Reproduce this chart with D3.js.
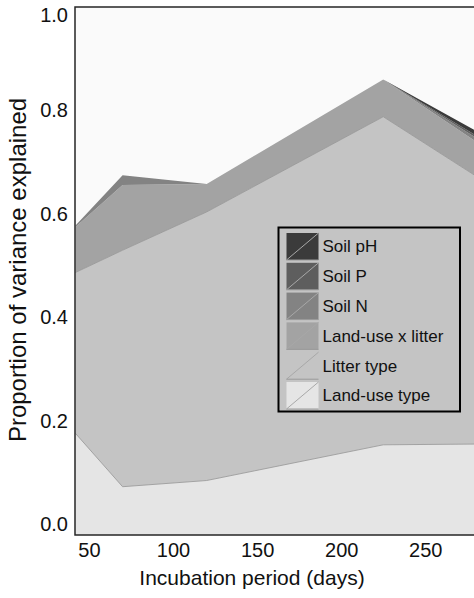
<!DOCTYPE html>
<html>
<head>
<meta charset="utf-8">
<script src="https://cdn.jsdelivr.net/npm/d3@7"></script>
<style>
  body { margin: 0; background: #fff; }
  svg { display: block; font-family: "Liberation Sans", Arial, sans-serif; }
</style>
</head>
<body>
<div id="chart"></div>
<script>
// incubation days (last one sits past the visible right edge)
var days = [42, 70, 120, 225, 300];

// layer values, bottom of the stack first
var landUseType   = [0.176, 0.073, 0.085, 0.154, 0.156];
var litterType    = [0.311, 0.457, 0.519, 0.634, 0.476];
var landUseLitter = [0.088, 0.126, 0.054, 0.072, 0.065];
var soilN         = [0.003, 0.019, 0.000, 0.000, 0.010];
var soilP         = [0.000, 0.000, 0.000, 0.000, 0.006];
var soilPH        = [0.000, 0.000, 0.000, 0.000, 0.012];

var seriesNames = ['Land-use type', 'Litter type', 'Land-use x litter', 'Soil N', 'Soil P', 'Soil pH'];
var seriesColors = ['#e5e5e5', '#c4c4c4', '#a3a3a3', '#838383', '#5e5e5e', '#3b3b3b'];
var xTicks = [50, 100, 150, 200, 250];
var yTicks = [0, 0.2, 0.4, 0.6, 0.8, 1.0];

var width = 474, height = 598;

var svg = d3.select('#chart').append('svg')
    .attr('width', width)
    .attr('height', height);

// plot runs past the right edge of the window, like the source
var x = d3.scaleLinear().domain([41.7, 320]).range([75, 543]);
var y = d3.scaleLinear().domain([-0.0203, 1.0]).range([535, 7]);

var rows = days.map(function (d, i) {
    return {
        day: d,
        'Land-use type': landUseType[i],
        'Litter type': litterType[i],
        'Land-use x litter': landUseLitter[i],
        'Soil N': soilN[i],
        'Soil P': soilP[i],
        'Soil pH': soilPH[i]
    };
});

var stacked = d3.stack().keys(seriesNames)(rows);

svg.append('rect')
    .attr('x', x.range()[0]).attr('y', y.range()[1])
    .attr('width', x.range()[1] - x.range()[0])
    .attr('height', y.range()[0] - y.range()[1])
    .attr('fill', '#fafafa');

var area = d3.area()
    .x(function (d) { return x(d.data.day); })
    .y0(function (d) { return d[0] === 0 ? y(y.domain()[0]) : y(d[0]); })
    .y1(function (d) { return y(d[1]); });

var topLine = d3.line()
    .x(function (d) { return x(d.data.day); })
    .y(function (d) { return y(d[1]); });

var layers = svg.append('g');
layers.selectAll('path.area')
    .data(stacked)
    .enter().append('path')
    .attr('class', 'area')
    .attr('d', area)
    .attr('fill', function (d, i) { return seriesColors[i]; });

// thin grey edges on the two lower layers only
layers.selectAll('path.edge')
    .data(stacked.slice(0, 2))
    .enter().append('path')
    .attr('class', 'edge')
    .attr('d', topLine)
    .attr('fill', 'none')
    .attr('stroke', function (d, i) { return i === 0 ? '#9c9c9c' : '#9a9a9a'; })
    .attr('stroke-width', 0.9);

// frame
svg.append('path')
    .attr('d', 'M' + x.range()[1] + ',' + y.range()[1] +
        'H' + x.range()[0] + 'V' + y.range()[0] + 'H' + x.range()[1])
    .attr('fill', 'none')
    .attr('stroke', '#262626')
    .attr('stroke-width', 1.5);

// axes, labels only
var yAxis = svg.append('g')
    .attr('transform', 'translate(' + x.range()[0] + ',0)')
    .call(d3.axisLeft(y).tickValues(yTicks).tickSize(0).tickPadding(7).tickFormat(d3.format('.1f')));
yAxis.select('.domain').remove();
yAxis.selectAll('text').attr('font-size', 20).attr('fill', '#111').attr('font-family', 'Liberation Sans, Arial, sans-serif');
// top label is nudged down so it stays inside the picture
yAxis.selectAll('.tick').filter(function (d) { return d === 1; })
    .select('text').attr('dy', '0.72em');

var xAxis = svg.append('g')
    .attr('transform', 'translate(0,' + y.range()[0] + ')')
    .call(d3.axisBottom(x).tickValues(xTicks).tickSize(0).tickPadding(8));
xAxis.select('.domain').remove();
xAxis.selectAll('text').attr('font-size', 20).attr('fill', '#111').attr('font-family', 'Liberation Sans, Arial, sans-serif');

svg.append('text')
    .attr('x', 252).attr('y', 585)
    .attr('text-anchor', 'middle')
    .attr('font-size', 21).attr('fill', '#111')
    .text('Incubation period (days)');

svg.append('text')
    .attr('transform', 'translate(26,270) rotate(-90)')
    .attr('text-anchor', 'middle')
    .attr('font-size', 24).attr('fill', '#111')
    .text('Proportion of variance explained');

// legend
var legend = svg.append('g').attr('transform', 'translate(278.5,227.5)');
legend.append('rect')
    .attr('width', 181.5).attr('height', 184)
    .attr('fill', 'none')
    .attr('stroke', '#000')
    .attr('stroke-width', 2);

var legendOrder = seriesNames.slice().reverse();
var legendColors = seriesColors.slice().reverse();
var item = legend.selectAll('g.item')
    .data(legendOrder)
    .enter().append('g')
    .attr('class', 'item')
    .attr('transform', function (d, i) { return 'translate(8,' + (5.5 + i * 29.8) + ')'; });

item.append('rect')
    .attr('width', 32).attr('height', 27)
    .attr('fill', function (d, i) { return legendColors[i]; });
item.append('line')
    .attr('x1', 0).attr('y1', 27).attr('x2', 32).attr('y2', 0)
    .attr('stroke', '#a8a8a8').attr('stroke-width', 1);
item.append('line')
    .attr('x1', 0).attr('y1', 27).attr('x2', 32).attr('y2', 27)
    .attr('stroke', '#9a9a9a').attr('stroke-width', 1);
item.append('text')
    .attr('x', 36).attr('y', 13.5)
    .attr('dy', '0.35em')
    .attr('font-size', 17).attr('fill', '#111')
    .text(function (d) { return d; });
</script>
</body>
</html>
